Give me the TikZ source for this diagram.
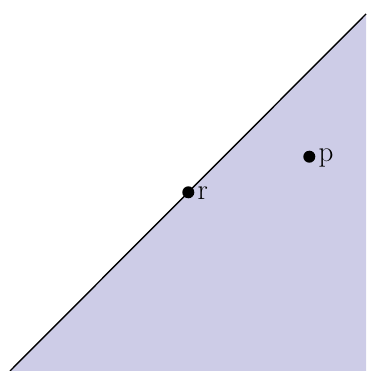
\documentclass[tikz,border=0pt]{standalone}
\definecolor{regionfill}{RGB}{205,204,231}
\begin{document}
\begin{tikzpicture}[x=1pt,y=1pt,
  dot/.style={circle,fill=black,inner sep=0pt,minimum size=12pt},
  lbl/.style={anchor=west,inner sep=0pt,font=\fontsize{29}{32}\selectfont}]
\useasboundingbox (0,0) rectangle (366,371);
\coordinate (bl) at (10,0);
\coordinate (tr) at (366,357);
\coordinate (br) at (366,0);
\fill[regionfill] (bl) -- (tr) -- (br) -- cycle;
\draw[line width=1.4pt] (bl) -- (tr);
\node[dot] (r) at (188.3,178.7) {};
\node[dot] (p) at (309.3,214.3) {};
\node[lbl] (rl) at ([xshift=3pt,yshift=-1pt]r.east) {r};
\node[lbl] (pl) at ([xshift=3pt,yshift=-1pt]p.east) {p};
\end{tikzpicture}
\end{document}
